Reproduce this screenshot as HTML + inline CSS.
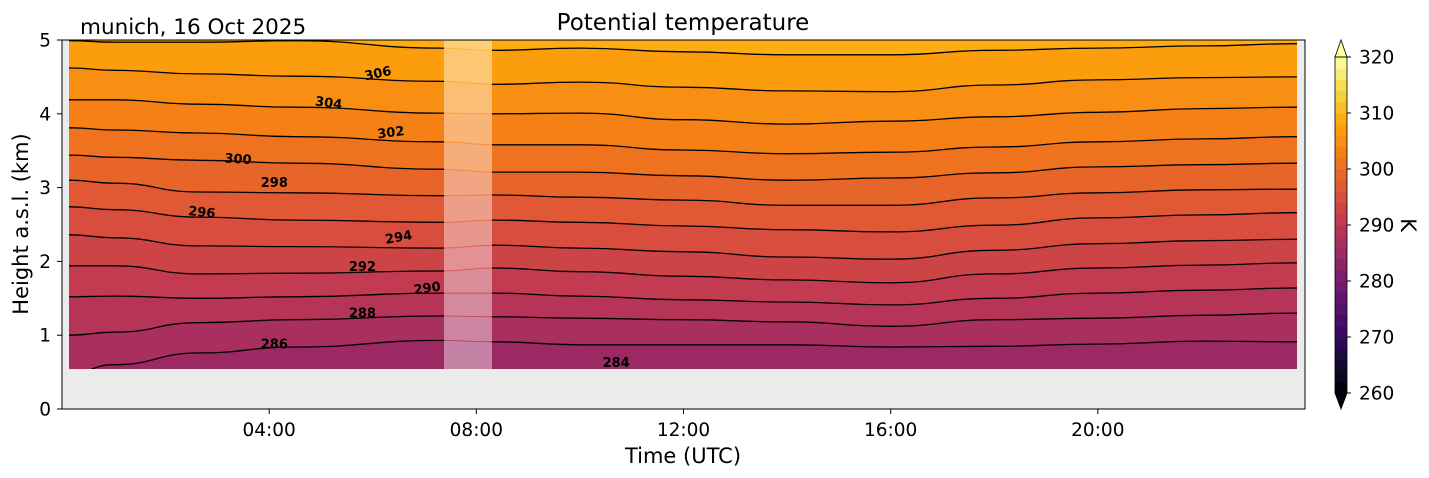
<!DOCTYPE html>
<html><head><meta charset="utf-8">
<style>
html,body{margin:0;padding:0;background:#fff;}
svg{display:block;font-family:"DejaVu Sans","Liberation Sans",sans-serif;}
</style></head>
<body>
<svg id="chart" width="1429" height="478" viewBox="0 0 1429 478" xmlns="http://www.w3.org/2000/svg">
  <defs>
    <clipPath id="dataClip"><rect x="69" y="40" width="1228" height="329"/></clipPath>
    <clipPath id="lineClip">
      <rect x="69" y="40" width="375" height="329"/>
      <rect x="492" y="40" width="805" height="329"/>
    </clipPath>
  </defs>
  <text x="80" y="34" font-size="21.5" fill="#000">munich, 16 Oct 2025</text>
  <text x="683" y="30" font-size="23" text-anchor="middle" fill="#000">Potential temperature</text>
  <rect x="62" y="40" width="1243" height="369" fill="#ebebeb"/>
  <g id="fills" clip-path="url(#dataClip)"></g>
  <rect x="444" y="40" width="48" height="329" fill="#ffffff" opacity="0.42"/>
  <g id="lines" clip-path="url(#lineClip)"></g>
  <g id="gaplines"></g>
  <g id="clabels"></g>
  <rect x="62" y="40" width="1243" height="369" fill="none" stroke="#000" stroke-width="1"/>
  <g id="axes"></g>
  <text x="683" y="463" font-size="21" text-anchor="middle">Time (UTC)</text>
  <text transform="translate(28,224) rotate(-90)" font-size="21" text-anchor="middle">Height a.s.l. (km)</text>
  <g id="cbar"></g>
  <text transform="translate(1401,225) rotate(90)" font-size="21" text-anchor="middle">K</text>
</svg>
<script>
// ---- data ----
const times = [0.15, 1.0, 2.65, 4.5, 7.3, 8.35, 10, 12, 14, 16, 18, 20, 22, 23.85];
const levels = [286, 288, 290, 292, 294, 296, 298, 300, 302, 304, 306, 308];
const h286 = [0.48,0.60,0.76,0.84,0.93,0.91,0.87,0.87,0.87,0.84,0.85,0.88,0.92,0.91];
const h288 = [1.00,1.04,1.17,1.21,1.26,1.25,1.23,1.21,1.18,1.12,1.21,1.23,1.27,1.30];
const h290 = [1.52,1.53,1.50,1.52,1.57,1.57,1.53,1.48,1.45,1.41,1.50,1.57,1.61,1.64];
const h292 = [1.94,1.94,1.83,1.84,1.87,1.91,1.86,1.80,1.75,1.71,1.83,1.91,1.95,1.98];
const h294 = [2.36,2.32,2.21,2.20,2.18,2.22,2.18,2.13,2.06,2.03,2.15,2.24,2.28,2.30];
const h296 = [2.74,2.70,2.60,2.56,2.53,2.56,2.53,2.48,2.43,2.40,2.49,2.59,2.63,2.66];
const h298 = [3.10,3.06,2.94,2.93,2.89,2.90,2.87,2.83,2.76,2.76,2.86,2.93,2.97,2.98];
const h300 = [3.44,3.41,3.37,3.33,3.25,3.21,3.21,3.16,3.10,3.13,3.20,3.28,3.31,3.33];
const h302 = [3.81,3.78,3.74,3.69,3.62,3.58,3.58,3.51,3.46,3.48,3.55,3.62,3.66,3.69];
const h304 = [4.19,4.19,4.13,4.09,4.01,4.00,4.01,3.92,3.86,3.90,3.96,4.02,4.07,4.09];
const h306 = [4.62,4.59,4.54,4.51,4.44,4.40,4.43,4.36,4.31,4.30,4.39,4.46,4.49,4.50];
const h308 = [4.99,4.97,4.97,4.99,4.89,4.86,4.89,4.84,4.80,4.80,4.86,4.89,4.92,4.95];
const heights = [h286,h288,h290,h292,h294,h296,h298,h300,h302,h304,h306,h308];
const yTicks = [0,1,2,3,4,5];
const xTickHours = [4,8,12,16,20];
const xTickLabels = ["04:00","08:00","12:00","16:00","20:00"];
const cbarTicks = [260,270,280,290,300,310,320];
const labelLevels = [306,304,302,300,298,296,294,292,290,288,286,284];
const labelTimes = [6.1,5.15,6.35,3.4,4.1,2.7,6.5,5.8,7.05,5.8,4.1,10.7];
const labelHeights = [4.55,4.15,3.75,3.39,3.07,2.67,2.33,1.93,1.64,1.3,0.88,0.63];
const labelAngles = [-12,8,-7,4,0,6,-10,0,-8,0,0,0];

// ---- scales ----
const X0=62, X1=1305, Y0=409, Y1=40;
const xS = h => X0 + h/24*(X1-X0);
const yS = km => Y0 - km/5*(Y0-Y1);
const NS="http://www.w3.org/2000/svg";
function mk(tag, attrs, parent){const e=document.createElementNS(NS,tag);for(const k in attrs)e.setAttribute(k,attrs[k]);parent.appendChild(e);return e;}

const stops=[[0,"#000004"],[0.1,"#160b39"],[0.2,"#420a68"],[0.3,"#6a176e"],[0.4,"#932667"],[0.5,"#bc3754"],[0.6,"#dd513a"],[0.7,"#f37819"],[0.8,"#fca50a"],[0.9,"#f6d746"],[1,"#fcffa4"]];
function hx(c){return [1,3,5].map(i=>parseInt(c.substr(i,2),16));}
function inferno(t){t=Math.max(0,Math.min(1,t));for(let i=0;i<stops.length-1;i++){if(t<=stops[i+1][0]){const f=(t-stops[i][0])/(stops[i+1][0]-stops[i][0]);const a=hx(stops[i][1]),b=hx(stops[i+1][1]);return "rgb("+a.map((v,j)=>Math.round(v+(b[j]-v)*f)).join(",")+")";}}return stops[10][1];}
const col = T => inferno((T-260)/60);

function pts(arr){
  const p=[];
  p.push([69, yS(arr[0])]);
  for(let i=0;i<times.length;i++) p.push([xS(times[i]), yS(arr[i])]);
  p.push([1297, yS(arr[arr.length-1])]);
  return p;
}
function pathD(p){let d="M"+p[0][0].toFixed(1)+","+p[0][1].toFixed(1);
  for(let i=1;i<p.length;i++){const a=p[i-1],b=p[i];const mx=(a[0]+b[0])/2;d+=" C"+mx.toFixed(1)+","+a[1].toFixed(1)+" "+mx.toFixed(1)+","+b[1].toFixed(1)+" "+b[0].toFixed(1)+","+b[1].toFixed(1);}
  return d;}

const fills=document.getElementById('fills');
const bg=mk('rect',{x:69,y:40,width:1228,height:329,fill:col(285)},fills);


levels.forEach((L,i)=>{
  const d=pathD(pts(heights[i]))+" L1297,30 L69,30 Z";
  const e=mk('path',{d:d,fill:col(L+1)},fills);
  
  
});
const lines=document.getElementById('lines');
const gaplines=document.getElementById('gaplines');
levels.forEach((L,i)=>{
  const e=mk('path',{d:pathD(pts(heights[i])),fill:"none",stroke:"#000","stroke-width":1.3},lines);
  
  
});
const gc=mk('clipPath',{id:'gapClip'},document.querySelector('defs'));
mk('rect',{x:444,y:40,width:48,height:329},gc);
gaplines.setAttribute('clip-path','url(#gapClip)');
levels.forEach((L,i)=>{
  const e=mk('path',{d:pathD(pts(heights[i])),fill:"none",stroke:col(L+2),"stroke-width":1,opacity:0.7},gaplines);
  
  
});
const cl=document.getElementById('clabels');
labelLevels.forEach((L,i)=>{
  const x=xS(labelTimes[i]), y=yS(labelHeights[i]);
  const t=mk('text',{x:x,y:y+4.5,"font-size":13,"font-weight":"bold","text-anchor":"middle",transform:"rotate("+labelAngles[i]+","+x+","+y+")"},cl);
  t.textContent=L;
  
  
});

const ax=document.getElementById('axes');
yTicks.forEach(v=>{
  const y=yS(v);
  const l=mk('line',{x1:57,x2:62,y1:y,y2:y,stroke:"#000"},ax);
  
  
  const t=mk('text',{x:51,y:y+6.5,"font-size":18.5,"text-anchor":"end"},ax);
  t.textContent=v;
  
  
});
xTickHours.forEach((h,i)=>{
  const x=xS(h);
  const l=mk('line',{x1:x,x2:x,y1:409,y2:414,stroke:"#000"},ax);
  
  
  const t=mk('text',{x:x,y:436,"font-size":18.5,"text-anchor":"middle"},ax);
  t.textContent=xTickLabels[i];
  
  
});

const cb=document.getElementById('cbar');
const CX=1335, CW=12, CT=57, CB=393;
const cy=T=>CB-(T-260)/60*(CB-CT);
for(let T=260;T<320;T+=2){
  const r=mk('rect',{x:CX,y:cy(T+2),width:CW,height:cy(T)-cy(T+2)+0.5,fill:col(T+1)},cb);
  
  
}
const tu=mk('polygon',{points:`${CX},${CT} ${CX+CW/2},40 ${CX+CW},${CT}`,fill:col(321),stroke:"#000","stroke-width":0.8},cb);


const td=mk('polygon',{points:`${CX},${CB} ${CX+CW/2},409 ${CX+CW},${CB}`,fill:"#000004",stroke:"#000","stroke-width":0.8},cb);


const fr=mk('rect',{x:CX,y:CT,width:CW,height:CB-CT,fill:"none",stroke:"#000","stroke-width":0.8},cb);


cbarTicks.forEach(v=>{
  const y=cy(v);
  const l=mk('line',{x1:CX+CW,x2:CX+CW+4,y1:y,y2:y,stroke:"#000"},cb);
  
  
  const t=mk('text',{x:1359,y:y+6.5,"font-size":18.5},cb);
  t.textContent=v;
  
  
});
</script>
</body></html>
